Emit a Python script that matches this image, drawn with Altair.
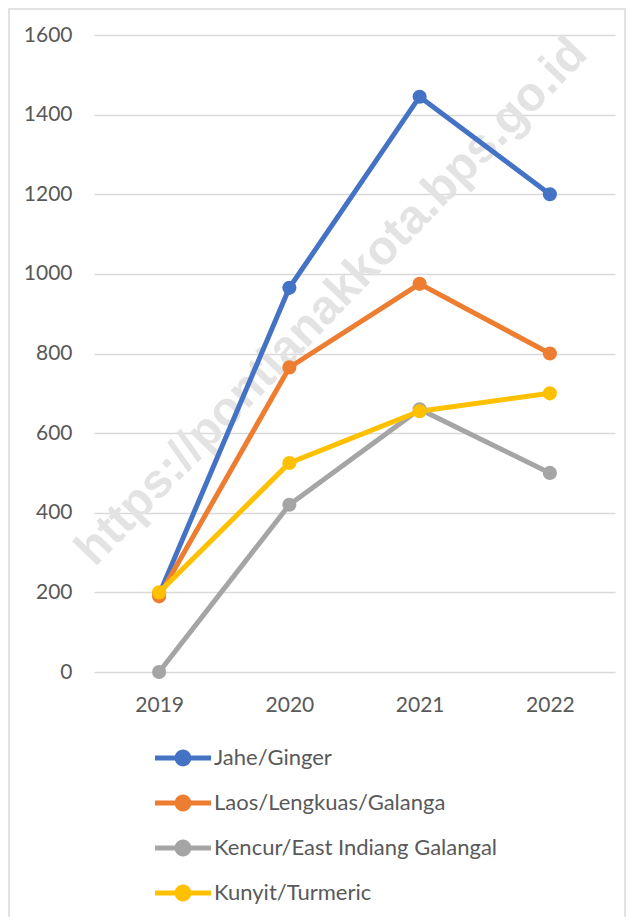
import altair as alt
import pandas as pd

years = ["2019", "2020", "2021", "2022"]
series_names = ["Jahe/Ginger", "Laos/Lengkuas/Galanga",
                "Kencur/East Indiang Galangal", "Kunyit/Turmeric"]
jahe = [195, 965, 1445, 1200]
laos = [190, 765, 975, 800]
kencur = [0, 420, 660, 500]
kunyit = [200, 525, 655, 700]
colors = ["#4472C4", "#ED7D31", "#A5A5A5", "#FFC000"]
y_ticks = [0, 200, 400, 600, 800, 1000, 1200, 1400, 1600]
watermark = "https://pontianakkota.bps.go.id"

rows = []
for name, vals in zip(series_names, [jahe, laos, kencur, kunyit]):
    for yr, v in zip(years, vals):
        rows.append({"year": yr, "value": v, "series": name,
                     "order": series_names.index(name)})
df = pd.DataFrame(rows)

W, H = 521, 637
FONT = "Lato"
TXT = "#595959"

legend_path = ("M-1,-0.085L1,-0.085L1,0.085L-1,0.085Z "
               "M-0.3,0A0.3,0.3 0 1,1 0.3,0A0.3,0.3 0 1,1 -0.3,0Z")

x_enc = alt.X("year:O", scale=alt.Scale(type="point", padding=0.5),
              axis=alt.Axis(title=None, labelAngle=0, domain=False, ticks=False,
                            grid=False, labelFontSize=21, labelColor=TXT,
                            labelFont=FONT, labelPadding=22))
y_enc = alt.Y("value:Q", scale=alt.Scale(domain=[0, 1600], nice=False),
              axis=alt.Axis(title=None, values=y_ticks, format="d",
                            domain=False, ticks=False,
                            gridColor="#D9D9D9", gridWidth=1.5,
                            labelFontSize=21, labelColor=TXT, labelFont=FONT,
                            labelPadding=22))
color_enc = alt.Color(
    "series:N",
    scale=alt.Scale(domain=series_names, range=colors),
    legend=alt.Legend(title=None, orient="none", legendX=61, legendY=695,
                      direction="vertical", symbolType=legend_path,
                      symbolSize=3136, symbolStrokeWidth=0,
                      symbolOpacity=1,
                      labelFontSize=22, labelColor=TXT, labelFont=FONT,
                      labelOffset=3, rowPadding=6, labelLimit=400),
)

base = alt.Chart(df)

border = alt.Chart(pd.DataFrame({"k": [0]})).mark_rect(
    fillOpacity=0, stroke="#D9D9D9", strokeWidth=1.5
).encode(x=alt.value(-85), x2=alt.value(W + 10),
         y=alt.value(-26), y2=alt.value(H + 300))

wm = alt.Chart(pd.DataFrame({"t": [watermark]})).mark_text(
    font="Liberation Sans", fontWeight="bold", fontSize=48, angle=314,
    color="#E3E3E3", opacity=1, align="center", baseline="middle"
).encode(text="t:N", x=alt.value(238), y=alt.value(267))

lines = base.mark_line(strokeWidth=5).encode(
    x=x_enc, y=y_enc, color=color_enc, order="order:Q")
points = base.mark_point(filled=True, size=200, opacity=1).encode(
    x=x_enc, y=y_enc,
    color=alt.Color("series:N", scale=alt.Scale(domain=series_names, range=colors),
                    legend=None))

chart = alt.layer(border, wm, lines, points).properties(
    width=W, height=H,
    autosize=alt.AutoSizeParams(type="none"),
    padding={"left": 86, "top": 27, "right": 11, "bottom": 245},
).configure(background="white").configure_view(stroke=None)

chart.save("out.html", embed_options={"renderer": "svg", "actions": False})
